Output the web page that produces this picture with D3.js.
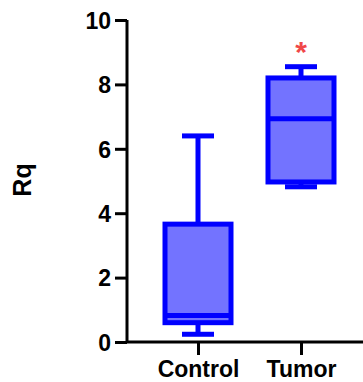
<!DOCTYPE html>
<html>
<head>
<meta charset="utf-8">
<script src="https://cdn.jsdelivr.net/npm/d3@7"></script>
<style>
  body { margin: 0; background: #fff; }
  text { font-family: Arial, "Liberation Sans", sans-serif; font-weight: bold; }
</style>
</head>
<body>
<div id="chart"></div>
<script>
var width = 363;
var height = 382;

var groups = ['Control', 'Tumor'];
var whiskerMin = [0.24, 4.82];
var q1 = [0.6, 4.97];
var median = [0.82, 6.93];
var q3 = [3.66, 8.2];
var whiskerMax = [6.4, 8.55];
var yTicks = [0, 2, 4, 6, 8, 10];
var significant = [false, true];

var boxes = groups.map(function(g, i) {
  return { name: g, min: whiskerMin[i], q1: q1[i], med: median[i], q3: q3[i], max: whiskerMax[i], sig: significant[i] };
});

var svg = d3.select('#chart').append('svg')
  .attr('width', width).attr('height', height);

var y = d3.scaleLinear().domain([0, 10]).range([342, 20]);
var x = d3.scalePoint().domain(groups).range([198, 301]);

// y axis
var yAxis = svg.append('g')
  .attr('transform', 'translate(127,0)')
  .call(d3.axisLeft(y).tickValues(yTicks).tickSize(12).tickPadding(4));
yAxis.select('.domain').attr('stroke-width', 3).attr('d', 'M0,' + y(10) + 'V' + y(0));
yAxis.selectAll('.tick line').attr('stroke-width', 3);
yAxis.selectAll('.tick text').attr('font-size', 23).attr('fill', '#000').attr('dy', '0.36em');

// x axis
var xAxis = svg.append('g')
  .attr('transform', 'translate(0,' + y(0) + ')')
  .call(d3.axisBottom(x).tickSize(13).tickPadding(6));
xAxis.select('.domain').attr('stroke-width', 3).attr('d', 'M126,0H363');
xAxis.selectAll('.tick line').attr('stroke-width', 3);
xAxis.selectAll('.tick text').attr('font-size', 23).attr('fill', '#000')
  .attr('y', 35).attr('dy', 0);

// y label
svg.append('text')
  .attr('transform', 'translate(31,180) rotate(-90)')
  .attr('text-anchor', 'middle')
  .attr('font-size', 25)
  .text('Rq');

var boxW = 66;
var capW = 32;
var blue = '#0000ff';

var g = svg.selectAll('.box')
  .data(boxes)
  .enter().append('g')
  .attr('class', 'box');

// whiskers
g.append('line')
  .attr('x1', function(d) { return x(d.name); })
  .attr('x2', function(d) { return x(d.name); })
  .attr('y1', function(d) { return y(d.max); })
  .attr('y2', function(d) { return y(d.min); })
  .attr('stroke', blue).attr('stroke-width', 5);

g.append('line')
  .attr('x1', function(d) { return x(d.name) - capW / 2; })
  .attr('x2', function(d) { return x(d.name) + capW / 2; })
  .attr('y1', function(d) { return y(d.max); })
  .attr('y2', function(d) { return y(d.max); })
  .attr('stroke', blue).attr('stroke-width', 5);

g.append('line')
  .attr('x1', function(d) { return x(d.name) - capW / 2; })
  .attr('x2', function(d) { return x(d.name) + capW / 2; })
  .attr('y1', function(d) { return y(d.min); })
  .attr('y2', function(d) { return y(d.min); })
  .attr('stroke', blue).attr('stroke-width', 5);

// box
g.append('rect')
  .attr('x', function(d) { return x(d.name) - boxW / 2; })
  .attr('y', function(d) { return y(d.q3); })
  .attr('width', boxW)
  .attr('height', function(d) { return y(d.q1) - y(d.q3); })
  .attr('fill', '#7373ff')
  .attr('stroke', blue).attr('stroke-width', 5);

// median
g.append('line')
  .attr('x1', function(d) { return x(d.name) - boxW / 2; })
  .attr('x2', function(d) { return x(d.name) + boxW / 2; })
  .attr('y1', function(d) { return y(d.med); })
  .attr('y2', function(d) { return y(d.med); })
  .attr('stroke', blue).attr('stroke-width', 5);

// significance
g.filter(function(d) { return d.sig; })
  .append('text')
  .attr('x', function(d) { return x(d.name); })
  .attr('y', function(d) { return y(d.max) - 5; })
  .attr('text-anchor', 'middle')
  .attr('font-size', 30)
  .attr('font-weight', 'normal')
  .attr('fill', '#f04848')
  .text('*');
</script>
</body>
</html>
